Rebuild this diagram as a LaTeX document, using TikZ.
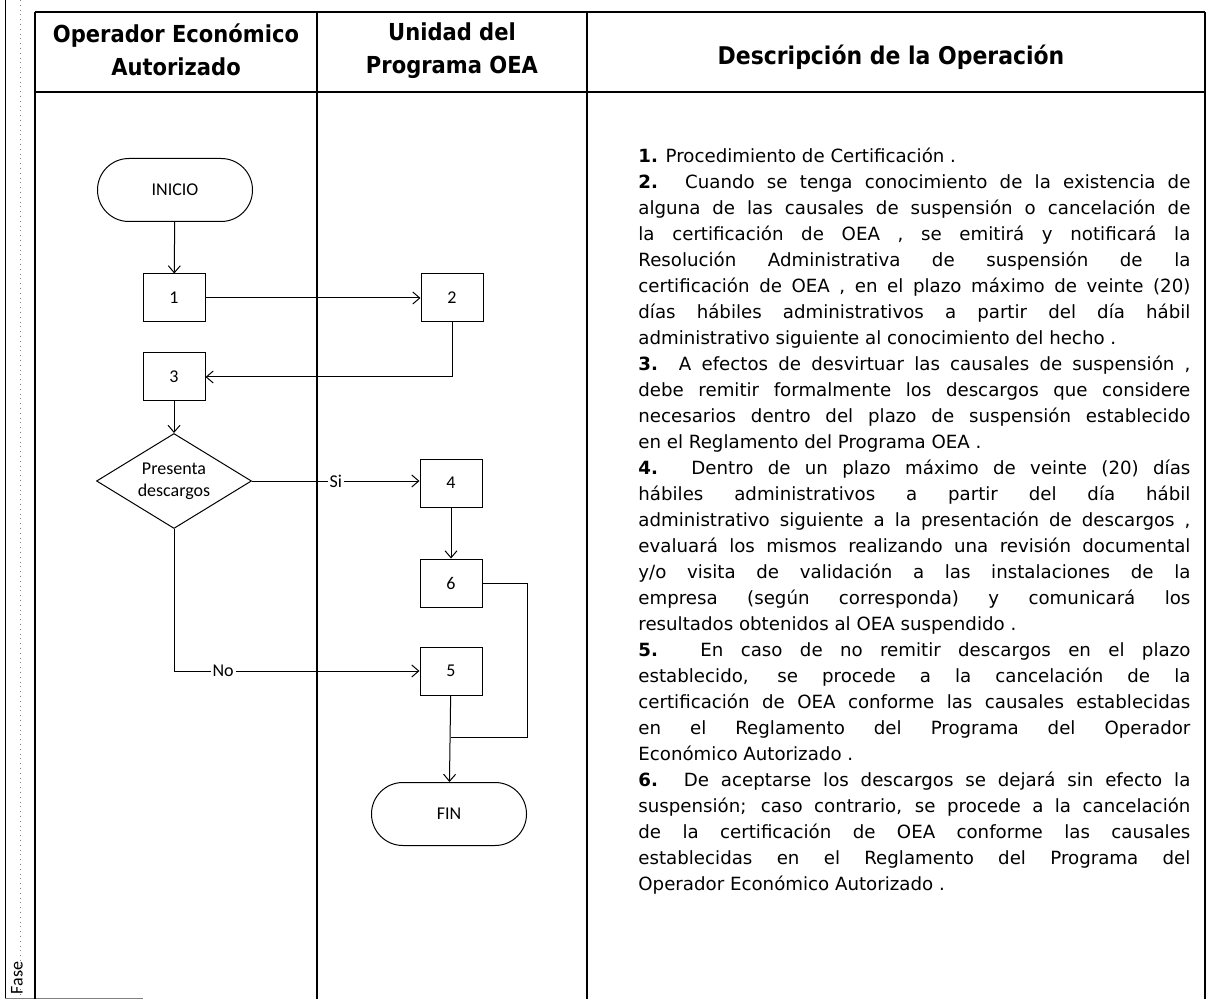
\documentclass[tikz,border=0pt]{standalone}
\usepackage{fontspec}
\setmainfont{DejaVu Sans}
\newfontfamily\headfont{DejaVu Sans}[FakeStretch=0.9]
\newfontfamily\flowfont{Carlito}
\usetikzlibrary{shapes.geometric,arrows.meta}

\begin{document}
\begin{tikzpicture}[x=0.5pt,y=-0.5pt,
  caja/.style={draw, line width=0.5pt, minimum width=31pt, minimum height=24pt, inner sep=0pt,
    font=\flowfont\fontsize{9}{11}\selectfont},
  terminal/.style={caja, minimum width=77.5pt, minimum height=31.5pt, rounded corners=15.7pt},
  decision/.style={caja, diamond, aspect=1.63, minimum width=77.5pt, minimum height=47.5pt, align=center},
  flecha/.style={-{Straight Barb[length=3.5pt,width=6pt]}, line width=0.5pt},
  rotulo/.style={fill=white, inner sep=1pt, font=\flowfont\fontsize{9}{11}\selectfont},
  linea/.style={line width=0.9pt},
  cabecera/.style={align=center, font=\headfont\bfseries\fontsize{11.7}{16.5}\selectfont}]
  \useasboundingbox (0,0) rectangle (1208,999);

  % margen izquierdo
  \draw[line width=0.4pt] (5,0) -- (5,999);
  \draw[gray, dotted] (20,0) -- (20,999);
  \draw[gray] (5,998) -- (143,998);
  \node[rotate=90, font=\flowfont\fontsize{9}{11}\selectfont] (fase) at (17,978) {Fase};

  % tabla
  \draw[linea] (35,12) -- (1205,12);
  \draw[linea] (35,92) -- (1205,92);
  \draw[linea] (35,12) -- (35,999);
  \draw[linea] (317,12) -- (317,999);
  \draw[linea] (587,12) -- (587,999);
  \draw[linea] (1205,12) -- (1205,999);
  \node[cabecera] (h1) at (176,50) {Operador Económico\\Autorizado};
  \node[cabecera] (h2) at (452,51) {Unidad del\\Programa OEA};
  \node[cabecera, font=\headfont\bfseries\fontsize{12.2}{16.5}\selectfont] (h3) at (891,57) {Descripción de la Operación};

  % diagrama
  \node[terminal] (inicio) at (175,190) {INICIO};
  \node[caja] (b1) at (174,298) {1};
  \node[caja] (b2) at (452,298) {2};
  \node[caja] (b3) at (174,377) {3};
  \node[decision] (dec) at (174,481) {Presenta\\descargos};
  \node[caja] (b4) at (451,483) {4};
  \node[caja] (b6) at (451,583) {6};
  \node[caja] (b5) at (451,671) {5};
  \node[terminal] (fin) at (449,814) {FIN};
  \coordinate (vuelta) at (527,737);
  \coordinate (union) at (451,737);

  \draw[flecha] (inicio) -- (b1);
  \draw[flecha] (b1) -- (b2);
  \draw[flecha] (b2.south) |- (b3.east);
  \draw[flecha] (b3) -- (dec);
  \draw[flecha] (dec.east) -- node[rotulo] {Si} (dec.east -| b4.west);
  \draw[flecha] (dec.south) |- node[rotulo, pos=0.6] {No} (b5.west);
  \draw[flecha] (b4) -- (b6);
  \draw[flecha] (b5) -- (fin);
  \draw[line width=0.5pt] (b6.east) -| (vuelta) -- (union);

  % descripcion
  \node[anchor=north west, text width=276pt, align=justify, inner sep=0pt,
    font=\fontsize{9.1}{13}\selectfont] (desc) at (638,148) {\sloppy\parindent=0pt
\textbf{1.} Procedimiento de Certificación .\par
\textbf{2.} Cuando se tenga conocimiento de la existencia de\linebreak
alguna de las causales de suspensión o cancelación de\linebreak
la certificación de OEA , se emitirá y notificará la\linebreak
Resolución Administrativa de suspensión de la\linebreak
certificación de OEA , en el plazo máximo de veinte (20)\linebreak
días hábiles administrativos a partir del día hábil\linebreak
administrativo siguiente al conocimiento del hecho .\par
\textbf{3.} A efectos de desvirtuar las causales de suspensión ,\linebreak
debe remitir formalmente los descargos que considere\linebreak
necesarios dentro del plazo de suspensión establecido\linebreak
en el Reglamento del Programa OEA .\par
\textbf{4.} Dentro de un plazo máximo de veinte (20) días\linebreak
hábiles administrativos a partir del día hábil\linebreak
administrativo siguiente a la presentación de descargos ,\linebreak
evaluará los mismos realizando una revisión documental\linebreak
y/o visita de validación a las instalaciones de la\linebreak
empresa (según corresponda) y comunicará los\linebreak
resultados obtenidos al OEA suspendido .\par
\textbf{5.} En caso de no remitir descargos en el plazo\linebreak
establecido, se procede a la cancelación de la\linebreak
certificación de OEA conforme las causales establecidas\linebreak
en el Reglamento del Programa del Operador\linebreak
Económico Autorizado .\par
\textbf{6.} De aceptarse los descargos se dejará sin efecto la\linebreak
suspensión; caso contrario, se procede a la cancelación\linebreak
de la certificación de OEA conforme las causales\linebreak
establecidas en el Reglamento del Programa del\linebreak
Operador Económico Autorizado .\par};
\end{tikzpicture}
\end{document}
